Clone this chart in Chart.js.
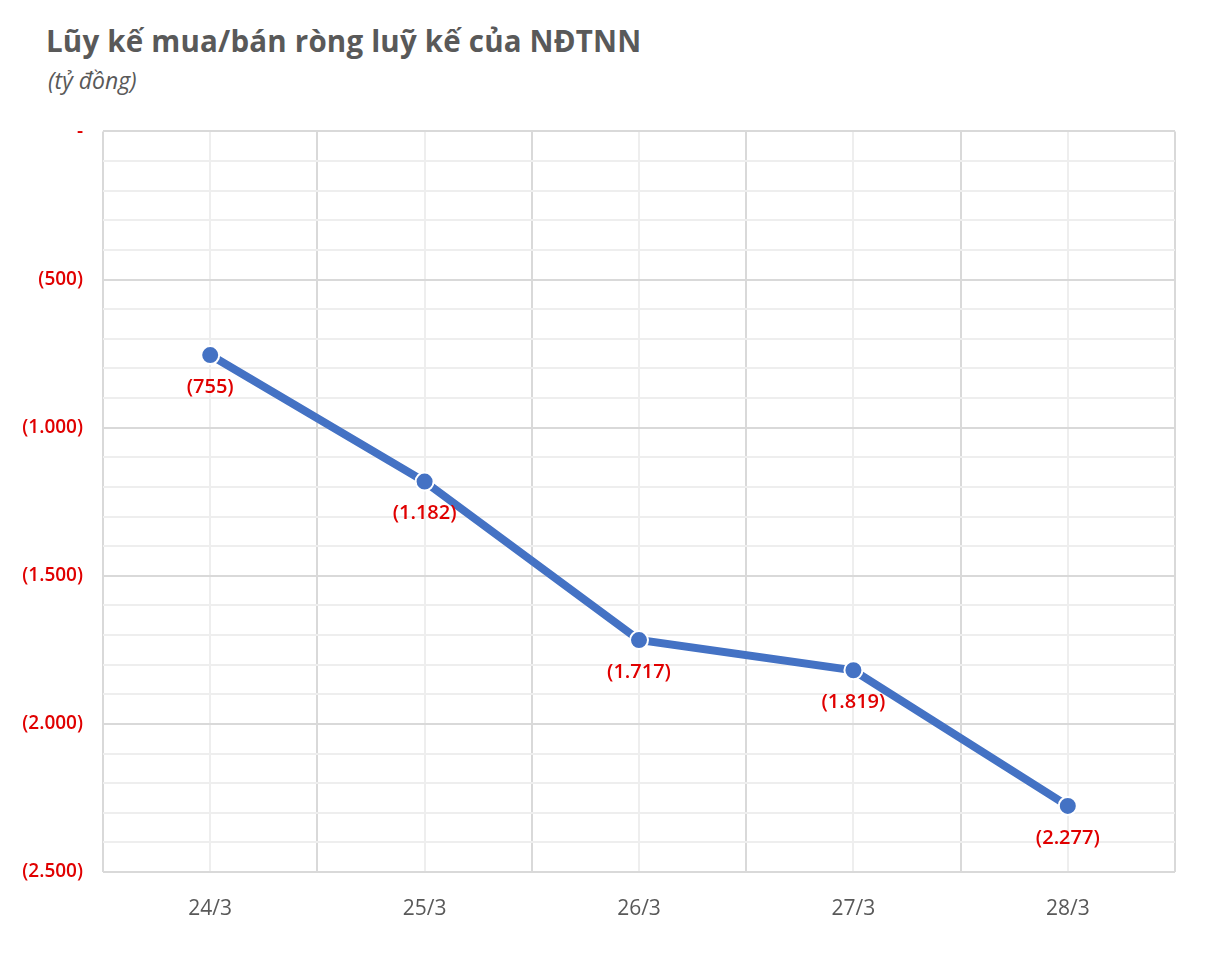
<!DOCTYPE html>
<html lang="vi">
<head>
<meta charset="UTF-8">
<script src="https://cdn.jsdelivr.net/npm/chart.js"></script>
<title>Lũy kế mua/bán ròng</title>
<style>
  body { margin: 0; width: 1220px; height: 956px; background: #fff; font-family: "Open Sans", "Liberation Sans", sans-serif; position: relative; overflow: hidden; }
  h1 { position: absolute; left: 46px; top: 20px; margin: 0; font-size: 29.5px; font-weight: 700; color: #595959; letter-spacing: 0.2px; }
  .sub { position: absolute; left: 48px; top: 64px; font-size: 23px; font-style: italic; color: #595959; }
  #wrap { position: absolute; left: 0; top: 100px; width: 1220px; height: 856px; }
</style>
</head>
<body>
<h1>Lũy kế mua/bán ròng luỹ kế của NĐTNN</h1>
<div class="sub">(tỷ đồng)</div>
<div id="wrap"><canvas id="c"></canvas></div>
<script>
  Chart.defaults.font.family = '"Open Sans", sans-serif'

  const days = ['24/3', '25/3', '26/3', '27/3', '28/3']
  const netValues = [-755, -1182, -1717, -1819, -2277]

  const fmt = v => {
    if (v === 0) return '-'
    const s = Math.abs(v).toString().replace(/\B(?=(\d{3})+(?!\d))/g, '.')
    return v < 0 ? '(' + s + ')' : s
  }

  const pointLabels = {
    id: 'pointLabels',
    afterDatasetsDraw(chart) {
      const ctx = chart.ctx
      ctx.save()
      ctx.fillStyle = '#e00000'
      ctx.font = '600 20px "Open Sans", sans-serif'
      ctx.textAlign = 'center'
      ctx.textBaseline = 'top'
      chart.getDatasetMeta(0).data.forEach((pt, i) => {
        ctx.fillText(fmt(netValues[i]), pt.x, pt.y + 22)
      })
      ctx.restore()
    }
  }

  new Chart(document.getElementById('c'), {
    type: 'line',
    data: {
      labels: days,
      datasets: [{
        data: netValues,
        borderColor: '#4472C4',
        borderWidth: 8,
        pointRadius: 9,
        pointBackgroundColor: '#4472C4',
        pointBorderColor: '#ffffff',
        pointBorderWidth: 2,
        tension: 0
      }]
    },
    options: {
      responsive: true,
      maintainAspectRatio: false,
      animation: false,
      layout: { padding: { top: 4, right: 45, left: 0, bottom: 0 } },
      plugins: { legend: false, tooltip: { enabled: false } },
      scales: {
        x: {
          offset: true,
          grid: { offset: true, color: '#d9d9d9', lineWidth: 2, drawTicks: false },
          border: { display: false },
          ticks: { color: '#595959', font: { size: 21 }, padding: 24 },
          afterFit(s) { s.height = 84 }
        },
        x2: {
          type: 'category',
          labels: days,
          offset: true,
          grid: { offset: false, color: '#eeeeee', lineWidth: 2, drawTicks: false },
          border: { display: false },
          ticks: { display: false },
          afterFit(s) { s.height = 0 }
        },
        y: {
          min: -2500,
          max: 0,
          grid: {
            color: c => c.tick && c.tick.value % 500 === 0 ? '#d9d9d9' : '#eeeeee',
            lineWidth: 2,
            drawTicks: false
          },
          border: { display: false },
          ticks: {
            stepSize: 100,
            autoSkip: false,
            color: '#e00000',
            font: { size: 19, weight: '600' },
            padding: 20,
            callback: v => v % 500 === 0 ? fmt(v) : ''
          },
          afterFit(s) { s.width = 103 }
        }
      }
    },
    plugins: [pointLabels]
  })
</script>
</body>
</html>
